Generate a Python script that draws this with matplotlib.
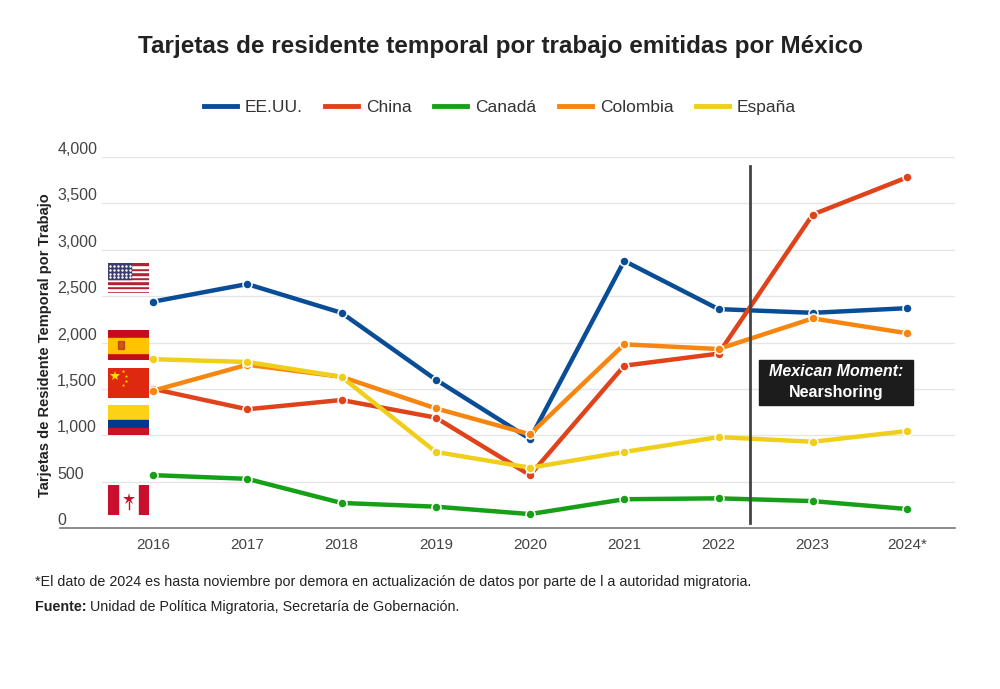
import matplotlib
matplotlib.use("Agg")
import matplotlib.pyplot as plt
from matplotlib.patches import Rectangle
from matplotlib.lines import Line2D

# datos
anios = [2016, 2017, 2018, 2019, 2020, 2021, 2022, 2023, 2024]
etiquetas_x = ["2016", "2017", "2018", "2019", "2020", "2021", "2022", "2023", "2024*"]

eeuu = [2440, 2630, 2320, 1600, 960, 2880, 2360, 2320, 2370]
china = [1500, 1280, 1380, 1190, 570, 1750, 1880, 3380, 3780]
canada = [570, 530, 270, 230, 150, 310, 320, 290, 205]
colombia = [1480, 1760, 1630, 1290, 1010, 1980, 1930, 2260, 2100]
espana = [1820, 1790, 1630, 820, 650, 820, 980, 930, 1045]

series = [
    ("EE.UU.", eeuu, "#0a4d97"),
    ("China", china, "#e0421a"),
    ("Canadá", canada, "#17a017"),
    ("Colombia", colombia, "#f6860f"),
    ("España", espana, "#f0cf1a"),
]

yticks = [0, 500, 1000, 1500, 2000, 2500, 3000, 3500, 4000]
linea_nearshoring = 2022.33

texto = "#222222"
normal = ["Liberation Sans", "DejaVu Sans"]

W, H = 1000, 689
fig = plt.figure(figsize=(10, 6.89), dpi=100)

# ejes: px 60..955 en x, 157..528 en y
ax = fig.add_axes([60 / W, 1 - 528 / H, 895 / W, 371 / H])
ax.set_xlim(2016 - 93 / 94.25, 2024 + 48 / 94.25)
ax.set_ylim(0, 4000)

for s in ["left", "right", "top"]:
    ax.spines[s].set_visible(False)
ax.spines["bottom"].set_color("#777777")
ax.spines["bottom"].set_linewidth(1.2)

# rejilla horizontal, empieza despues de las etiquetas
for v in yticks[1:]:
    ax.axhline(v, xmin=42 / 895, xmax=1, color="#e6e6e6", lw=1, zorder=0)

ax.set_yticks(yticks)
ax.set_yticklabels(["{:,}".format(v) for v in yticks], family=normal, fontsize=11.5, color="#444444")
for lab in ax.get_yticklabels():
    lab.set_horizontalalignment("left")
    lab.set_verticalalignment("bottom")
ax.tick_params(axis="y", length=0, pad=2)

ax.set_xticks(anios)
ax.set_xticklabels(etiquetas_x, family=normal, fontsize=11, color="#444444")
ax.tick_params(axis="x", length=0, pad=7)

for i, (nombre, valores, color) in enumerate(series):
    ax.plot(anios, valores, color=color, lw=3.2, marker="o", ms=6.5,
            mfc=color, mec="white", mew=1.1, zorder=3 + i, solid_capstyle="round")

# linea vertical nearshoring
ax.axvline(linea_nearshoring, ymin=5 / 371, ymax=362 / 371, color="#444444", lw=2, zorder=10)

# caja de anotacion
x0 = 2016 - 93 / 94.25 + (759 - 60) / 94.25
x1 = 2016 - 93 / 94.25 + (913 - 60) / 94.25
y0 = (528 - 405) * 4000 / 371
y1 = (528 - 360) * 4000 / 371
ax.add_patch(Rectangle((x0, y0), x1 - x0, y1 - y0, color="#1c1c1c", zorder=11))
xc = (x0 + x1) / 2
ax.text(xc, (528 - 372) * 4000 / 371, "Mexican Moment:", color="white", fontsize=11.5,
        fontweight="bold", fontstyle="italic", family=normal, ha="center", va="center", zorder=12)
ax.text(xc, (528 - 393) * 4000 / 371, "Nearshoring", color="white", fontsize=11.5,
        fontweight="bold", family=normal, ha="center", va="center", zorder=12)

# titulo de eje y
fig.text(45 / W, 1 - 345 / H, "Tarjetas de Residente Temporal por Trabajo", rotation=90,
         ha="center", va="center", fontsize=10.5, fontweight="bold", family=normal, color=texto)

# titulo
fig.text(500 / W, 1 - 47 / H, "Tarjetas de residente temporal por trabajo emitidas por México",
         ha="center", va="center", fontsize=17.5, fontweight="bold", family=normal, color=texto)

# leyenda
leg = fig.legend([Line2D([], [], color=c, lw=3.5) for _, _, c in series],
                 [n for n, _, _ in series], loc="center", bbox_to_anchor=(500 / W, 1 - 107 / H),
                 ncol=5, frameon=False, handlelength=1.9, handletextpad=0.45, columnspacing=1.3,
                 prop={"family": normal, "size": 12.5})
for t in leg.get_texts():
    t.set_color("#333333")

# banderas simples
def bandera(y_top, tipo):
    b = fig.add_axes([108 / W, 1 - (y_top + 30) / H, 41 / W, 30 / H])
    b.set_xlim(0, 1)
    b.set_ylim(0, 1)
    b.axis("off")
    rojo = "#c8102e"
    if tipo == "us":
        for i in range(13):
            b.add_patch(Rectangle((0, i / 13), 1, 1 / 13, color="#b22234" if i % 2 == 0 else "white"))
        b.add_patch(Rectangle((0, 6 / 13), 0.57, 7 / 13, color="#3c3b6e"))
        for i in range(6):
            for j in range(4):
                b.plot(0.05 + i * 0.095, 0.53 + j * 0.12, marker=".", ms=1.5, color="white")
    elif tipo == "es":
        b.add_patch(Rectangle((0, 0), 1, 1, color="#c60b1e"))
        b.add_patch(Rectangle((0, 0.25), 1, 0.5, color="#ffc400"))
        b.add_patch(Rectangle((0.25, 0.38), 0.14, 0.24, color="#ad1519", alpha=0.6))
    elif tipo == "cn":
        b.add_patch(Rectangle((0, 0), 1, 1, color="#de2910"))
        b.plot(0.18, 0.72, marker="*", ms=7, color="#ffde00", mew=0)
        for px, py in [(0.37, 0.9), (0.45, 0.75), (0.45, 0.57), (0.37, 0.45)]:
            b.plot(px, py, marker="*", ms=2.5, color="#ffde00", mew=0)
    elif tipo == "co":
        b.add_patch(Rectangle((0, 0.5), 1, 0.5, color="#fcd116"))
        b.add_patch(Rectangle((0, 0.25), 1, 0.25, color="#003893"))
        b.add_patch(Rectangle((0, 0), 1, 0.25, color="#ce1126"))
    elif tipo == "ca":
        b.add_patch(Rectangle((0, 0), 1, 1, color="white"))
        b.add_patch(Rectangle((0, 0), 0.25, 1, color=rojo))
        b.add_patch(Rectangle((0.75, 0), 0.25, 1, color=rojo))
        b.plot(0.5, 0.55, marker="*", ms=9, color=rojo, mew=0)
        b.plot([0.5, 0.5], [0.2, 0.45], color=rojo, lw=1)

bandera(263, "us")
bandera(330, "es")
bandera(368, "cn")
bandera(405, "co")
bandera(485, "ca")

# notas al pie
fig.text(35 / W, 1 - 582 / H, "*El dato de 2024 es hasta noviembre por demora en actualización de datos por parte de l a autoridad migratoria.",
         ha="left", va="center", fontsize=10.3, family=normal, color=texto)
fuente = fig.text(35 / W, 1 - 607 / H, "Fuente:", ha="left", va="center", fontsize=10.3,
                  family=normal, fontweight="bold", color=texto)
fig.canvas.draw()
bb = fuente.get_window_extent()
fig.text((bb.x1 + 3) / W, 1 - 607 / H, "Unidad de Política Migratoria, Secretaría de Gobernación.",
         ha="left", va="center", fontsize=10.3, family=normal, color=texto)

fig.savefig("out.png", dpi=100, facecolor="white")
